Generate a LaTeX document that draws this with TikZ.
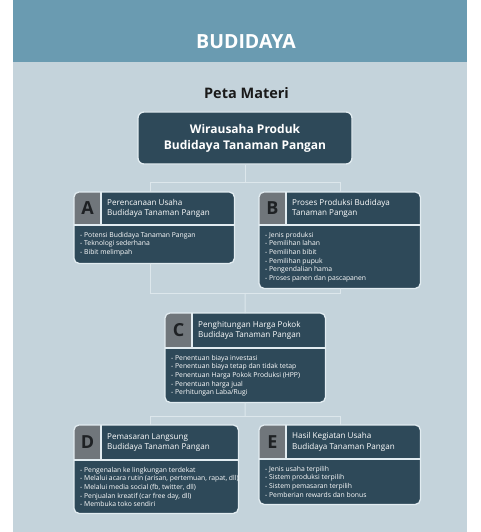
\documentclass[tikz,border=0pt]{standalone}
\usepackage{fontspec}
\setmainfont{Open Sans}
\usetikzlibrary{calc}
\definecolor{band}{RGB}{106,155,177}
\definecolor{panel}{RGB}{196,211,219}
\definecolor{boxdark}{RGB}{46,73,89}
\definecolor{lettergrey}{RGB}{112,118,123}
\definecolor{edge}{RGB}{226,236,241}
\definecolor{link}{RGB}{221,231,236}
\definecolor{letterink}{RGB}{30,33,36}
\definecolor{titleink}{RGB}{26,26,26}

\tikzset{
 matfill/.style={fill=boxdark, rounded corners=5pt, inner sep=0pt, draw=none},
 matedge/.style={draw=edge, line width=1.3pt, rounded corners=5pt},
 sepline/.style={draw=edge, line width=1.3pt},
 letterstyle/.style={font=\fontsize{18}{18}\selectfont\bfseries, text=letterink, inner sep=0pt},
 headstyle/.style={font=\fontsize{8.1}{10.5}\selectfont, text=white, align=left, inner sep=0pt},
 bodystyle/.style={font=\fontsize{6.8}{8.6}\selectfont, text=white, align=left, inner sep=0pt},
 linkline/.style={draw=link, line width=1pt},
 topbox/.style={fill=boxdark, draw=edge, line width=1.3pt, rounded corners=6pt,
   minimum width=214pt, minimum height=52pt, inner sep=0pt, text=white,
   font=\fontsize{12}{16}\selectfont\bfseries, align=center},
 bigtitle/.style={font=\fontsize{19.5}{20}\selectfont\bfseries, text=white, inner sep=0pt},
 subtitle/.style={font=\fontsize{14.5}{15}\selectfont\bfseries, text=titleink, inner sep=0pt},
}

\newcommand\matbox[9]{%
 \node[matfill, minimum width=#4pt, minimum height=#5pt, anchor=north west] (#1) at (#2,#3) {};
 \begin{scope}
 \clip[rounded corners=5pt] (#1.north west) rectangle (#1.south east);
 \fill[lettergrey] (#1.north west) rectangle ($(#1.north west)+(27,-#6)$);
 \end{scope}
 \draw[sepline] ($(#1.north west)+(0,-#6)$) -- ($(#1.north east)+(0,-#6)$);
 \draw[sepline] ($(#1.north west)+(27,0)$) -- ($(#1.north west)+(27,-#6)$);
 \node[letterstyle] (#1-l) at ($(#1.north west)+(13.5,{-#6/2})$) {#7};
 \node[headstyle, anchor=west] (#1-h) at ($(#1.north west)+(33,{-#6/2})$) {#8};
 \node[bodystyle, anchor=north west] (#1-b) at ($(#1.north west)+(6,{-#6-7})$) {#9};
 \draw[matedge] (#1.north west) rectangle (#1.south east);
}

\begin{document}
\begin{tikzpicture}[x=1pt,y=1pt]
\useasboundingbox (0,0) rectangle (480,-532);
\fill[white] (0,0) rectangle (480,-532);
\fill[band] (13,0) rectangle (467,-62);
\fill[panel] (13,-62) rectangle (467,-532);

\node[bigtitle] (title) at (246,-42) {BUDIDAYA};
\node[subtitle] (sub) at (246.5,-93) {Peta Materi};

\node[topbox] (top) at (245,-138) {Wirausaha Produk\\Budidaya Tanaman Pangan};

\matbox{A}{74}{-192}{160}{71}{33}{A}{Perencanaan Usaha\\Budidaya Tanaman Pangan}%
 {- Potensi Budidaya Tanaman Pangan\\- Teknologi sederhana\\- Bibit melimpah}
\matbox{B}{259}{-192}{161}{96}{33}{B}{Proses Produksi Budidaya\\Tanaman Pangan}%
 {- Jenis produksi\\- Pemilihan lahan\\- Pemilihan bibit\\- Pemilihan pupuk\\- Pengendalian hama\\- Proses panen dan pascapanen}
\matbox{C}{165}{-313}{160}{89}{35}{C}{Penghitungan Harga Pokok\\Budidaya Tanaman Pangan}%
 {- Penentuan biaya investasi\\- Penentuan biaya tetap dan tidak tetap\\- Penentuan Harga Pokok Produksi (HPP)\\- Penentuan harga jual\\- Perhitungan Laba/Rugi}
\matbox{D}{74}{-425}{164}{88}{35}{D}{Pemasaran Langsung\\Budidaya Tanaman Pangan}%
 {- Pengenalan ke lingkungan terdekat\\- Melalui acara rutin (arisan, pertemuan, rapat, dll)\\- Melalui media social (fb, twitter, dll)\\- Penjualan kreatif (car free day, dll)\\- Membuka toko sendiri}
\matbox{E}{259}{-425}{161}{79}{34}{E}{Hasil Kegiatan Usaha\\Budidaya Tanaman Pangan}%
 {- Jenis usaha terpilih\\- Sistem produksi terpilih\\- Sistem pemasaran terpilih\\- Pemberian rewards dan bonus}

\coordinate (j1) at (245,-182);
\coordinate (l1) at (150,-182);
\coordinate (r1) at (340,-182);
\coordinate (l2) at (150,-293);
\coordinate (r2) at (340,-293);
\coordinate (j2) at (245,-293);
\coordinate (j3) at (245,-416);
\coordinate (l3) at (150,-416);
\coordinate (r3) at (340,-416);

\draw[linkline] (top.south) -- (j1);
\draw[linkline] (l1) -- (r1);
\draw[linkline] (l1) -- (l1 |- A.north);
\draw[linkline] (r1) -- (r1 |- B.north);
\draw[linkline] (l1 |- A.south) -- (l2) -- (r2) -- (r2 |- B.south);
\draw[linkline] (j2) -- (C.north);
\draw[linkline] (C.south) -- (j3);
\draw[linkline] (l3) -- (r3);
\draw[linkline] (l3) -- (l3 |- D.north);
\draw[linkline] (r3) -- (r3 |- E.north);
\end{tikzpicture}
\end{document}
